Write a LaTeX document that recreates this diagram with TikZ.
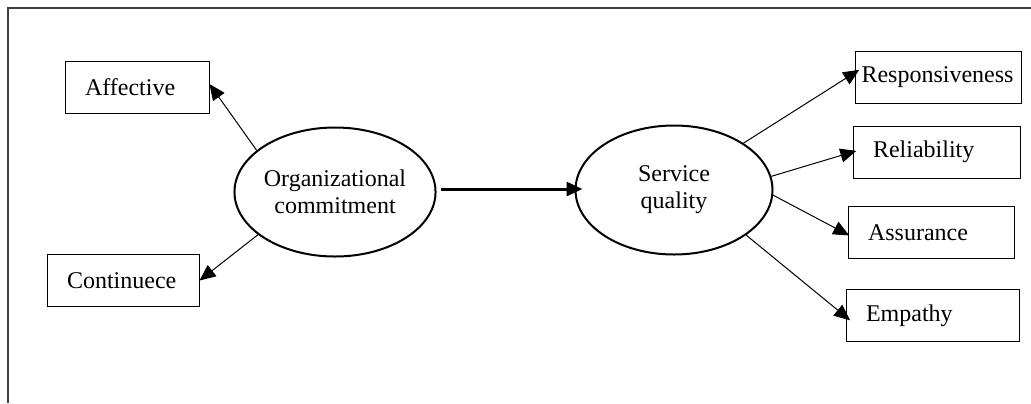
\documentclass[tikz,border=0pt]{standalone}
\usepackage{fontspec}
\setmainfont{Liberation Serif}
\usetikzlibrary{arrows.meta,shapes.geometric}
\tikzset{
  dimbox/.style={draw, line width=0.5pt, minimum height=26pt, inner xsep=10pt, align=left, font=\fontsize{12}{14.5}\selectfont},
  latent/.style={draw, ellipse, line width=1pt, minimum width=98.5pt, minimum height=64.5pt, align=center, inner sep=0pt, font=\fontsize{12}{13.5}\selectfont},
  loadline/.style={line width=0.5pt, -{Triangle[length=8pt,width=7pt]}}
}
\begin{document}
\begin{tikzpicture}[x=0.5pt,y=-0.5pt]
				\useasboundingbox (0,0) rectangle (1031,403);
				\draw [line width=0.6pt, black!75] (8,403)--(8,8)--(1031,8);
				\node[latent] (org) at (335,192) {Organizational\\commitment};
				\node[latent] (serv) at (674,190) {Service\\quality};
				\node[dimbox, text width=52pt] (aff) at (137,87) {Affective};
				\node[dimbox, text width=56pt] (cont) at (123,280.5) {Continuece};
				\node[dimbox, text width=77pt, inner xsep=3pt] (resp) at (938.5,77.5) {Responsiveness};
				\node[dimbox, text width=63.5pt] (rel) at (936.5,152) {Reliability};
				\node[dimbox, text width=63pt] (assur) at (931,232.5) {Assurance};
				\node[dimbox, text width=66.5pt] (emp) at (932.5,315.5) {Empathy};
				\draw [loadline] (org.152) -- ([yshift=1.5pt]aff.east);
				\draw [loadline] (org.209) -- (cont.east);
				\draw [line width=1.5pt, -{Triangle[length=8pt,width=7pt]}, shorten >=-4pt] ([xshift=2pt,yshift=1.5pt]org.east) -- ([yshift=0.5pt]serv.west);
				\draw [loadline, shorten >=-2.5pt] (serv.34) -- ([yshift=2.5pt]resp.west);
				\draw [loadline, shorten >=-2pt] (serv.8) -- (rel.west);
				\draw [loadline, shorten >=-1pt] (serv.-3) -- ([yshift=-1pt]assur.west);
				\draw [loadline, shorten >=-3pt] (serv.-32) -- ([yshift=-0.5pt]emp.west);
 			\end{tikzpicture}
\end{document}
